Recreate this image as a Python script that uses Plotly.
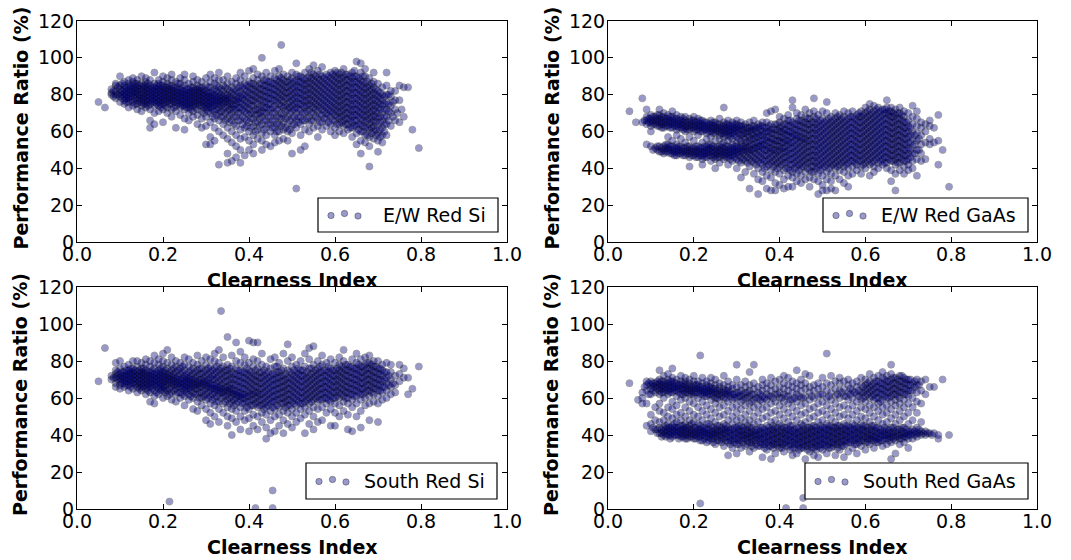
import plotly.graph_objects as go

# ---------------- data ----------------
# clearness-index columns shared by all panels
ci_cols = [0.08, 0.09, 0.10, 0.11, 0.12, 0.13, 0.14, 0.15, 0.16, 0.17,
           0.18, 0.19, 0.20, 0.21, 0.22, 0.23, 0.24, 0.25, 0.26, 0.27,
           0.28, 0.29, 0.30, 0.31, 0.32, 0.33, 0.34, 0.35, 0.36, 0.37,
           0.38, 0.39, 0.40, 0.41, 0.42, 0.43, 0.44, 0.45, 0.46, 0.47,
           0.48, 0.49, 0.50, 0.51, 0.52, 0.53, 0.54, 0.55, 0.56, 0.57,
           0.58, 0.59, 0.60, 0.61, 0.62, 0.63, 0.64, 0.65, 0.66, 0.67,
           0.68, 0.69, 0.70, 0.71, 0.72, 0.73, 0.74, 0.75, 0.76, 0.77]
ci_mid = [0.085, 0.095, 0.105, 0.115, 0.125, 0.135, 0.145, 0.155, 0.165, 0.175,
          0.185, 0.195, 0.205, 0.215, 0.225, 0.235, 0.245, 0.255, 0.265, 0.275,
          0.285, 0.295, 0.305, 0.315, 0.325, 0.335, 0.345, 0.355, 0.365, 0.375,
          0.385, 0.395, 0.405, 0.415, 0.425, 0.435, 0.445, 0.455, 0.465, 0.475,
          0.485, 0.495, 0.505, 0.515, 0.525, 0.535, 0.545, 0.555, 0.565, 0.575,
          0.585, 0.595, 0.605, 0.615, 0.625, 0.635, 0.645, 0.655, 0.665, 0.675,
          0.685, 0.695, 0.705, 0.715, 0.725, 0.735, 0.745, 0.755, 0.765, 0.775]

ew_si_pr = [
    [80, 81, 83], [78, 80, 82, 85, 86], [76, 79, 81, 83, 85, 90],
    [75, 77, 79, 81, 83, 85, 87], [73, 76, 78, 80, 82, 84, 86, 88],
    [74, 76, 79, 81, 83, 85, 87, 89], [72, 75, 77, 79, 81, 82, 84, 86, 88],
    [71, 74, 76, 78, 80, 82, 84, 86, 90], [73, 75, 77, 79, 81, 83, 85, 87, 89],
    [62, 66, 72, 75, 77, 79, 81, 83, 85, 88], [64, 70, 74, 76, 78, 80, 82, 84, 86, 92],
    [71, 74, 76, 78, 80, 82, 84, 86, 88], [65, 72, 75, 77, 79, 81, 83, 85, 87, 90],
    [70, 73, 76, 78, 80, 82, 84, 86, 89], [68, 72, 75, 77, 79, 81, 83, 85, 88, 91],
    [62, 71, 74, 76, 78, 80, 82, 84, 87], [69, 73, 75, 77, 79, 81, 83, 86, 89],
    [61, 67, 72, 74, 76, 78, 80, 82, 85, 88, 91], [66, 70, 73, 75, 77, 79, 81, 83, 86],
    [68, 71, 74, 76, 78, 80, 82, 84, 87, 90], [64, 69, 72, 75, 77, 79, 81, 83, 85, 88],
    [62, 67, 71, 74, 76, 78, 80, 82, 84, 87], [53, 63, 68, 72, 74, 76, 78, 80, 82, 85, 89],
    [53, 57, 65, 70, 73, 75, 77, 79, 81, 84, 87, 91], [55, 62, 67, 71, 74, 76, 78, 80, 83, 86, 89],
    [42, 60, 66, 70, 73, 75, 77, 79, 81, 84, 88, 92], [58, 64, 68, 72, 75, 77, 79, 82, 85, 88],
    [43, 48, 56, 62, 67, 71, 74, 76, 78, 80, 83, 86, 90], [44, 54, 60, 66, 70, 73, 75, 78, 81, 84, 87],
    [46, 52, 58, 63, 68, 72, 75, 77, 79, 82, 86, 89], [43, 50, 56, 61, 66, 70, 73, 76, 79, 82, 85, 88, 92],
    [47, 57, 62, 67, 71, 74, 77, 80, 83, 86, 90], [50, 55, 60, 65, 69, 72, 75, 78, 81, 84, 87, 93],
    [48, 53, 58, 63, 67, 71, 74, 77, 80, 83, 86, 89, 94], [56, 61, 65, 69, 72, 75, 78, 81, 84, 88, 91],
    [50, 55, 59, 64, 68, 71, 74, 77, 80, 83, 86, 90, 100], [53, 58, 62, 66, 70, 73, 76, 79, 82, 85, 88, 92],
    [52, 60, 64, 68, 72, 75, 78, 81, 84, 87, 90], [54, 58, 62, 66, 70, 74, 77, 80, 83, 86, 89, 93],
    [55, 60, 64, 68, 72, 75, 78, 81, 84, 87, 90, 94], [56, 61, 65, 69, 73, 76, 79, 82, 85, 88, 91],
    [55, 60, 64, 68, 72, 75, 78, 81, 84, 87, 90], [48, 59, 63, 67, 71, 74, 77, 80, 83, 86, 89, 92],
    [29, 62, 66, 70, 73, 76, 79, 82, 85, 88, 91, 97], [50, 58, 64, 68, 72, 75, 78, 81, 84, 87, 90],
    [52, 61, 66, 70, 73, 76, 79, 82, 85, 88, 92], [60, 64, 68, 72, 75, 78, 81, 84, 87, 90, 94],
    [62, 66, 70, 73, 76, 79, 82, 85, 88, 91, 96], [57, 63, 67, 71, 74, 77, 80, 83, 86, 89, 93],
    [61, 65, 69, 72, 75, 78, 81, 84, 87, 90, 95], [63, 67, 70, 73, 76, 79, 82, 85, 88, 91],
    [60, 64, 68, 71, 74, 77, 80, 83, 86, 89, 92], [58, 62, 66, 69, 72, 75, 78, 81, 84, 87, 90, 93],
    [60, 64, 67, 70, 73, 76, 79, 82, 85, 88, 91], [59, 63, 66, 69, 72, 75, 78, 81, 84, 87, 90, 94],
    [61, 64, 67, 70, 73, 76, 79, 82, 85, 88, 91], [57, 62, 65, 68, 71, 74, 77, 80, 83, 86, 89, 92],
    [53, 59, 63, 66, 69, 72, 75, 78, 81, 84, 87, 90, 98], [48, 55, 60, 64, 67, 70, 73, 76, 79, 82, 85, 88, 92, 97],
    [54, 58, 62, 65, 68, 71, 74, 77, 80, 83, 86, 90, 94], [41, 52, 57, 61, 64, 67, 70, 73, 76, 79, 82, 85, 89],
    [56, 60, 63, 66, 69, 72, 75, 78, 81, 84, 87, 92], [49, 55, 59, 63, 67, 70, 73, 76, 79, 82, 86],
    [54, 58, 62, 66, 70, 74, 77, 80, 84], [58, 64, 68, 72, 76, 80, 85, 92],
    [63, 70, 74, 79, 82], [66, 72, 77, 82], [65, 77, 85], [68, 84], [84]]
ew_si_pr_mid = [
    [79, 82], [80, 84], [78, 80, 82, 86], [76, 78, 80, 82, 84], [77, 79, 81, 83, 85],
    [75, 78, 80, 82, 84, 86], [76, 78, 80, 83, 85], [75, 77, 79, 81, 83, 85],
    [74, 76, 78, 80, 82, 84, 86], [76, 78, 80, 82, 84], [75, 77, 79, 81, 83, 85],
    [73, 75, 77, 79, 81, 83, 85], [74, 76, 78, 80, 82, 84], [75, 77, 79, 81, 83, 85],
    [73, 76, 78, 80, 82, 84], [75, 77, 79, 81, 83, 86], [74, 76, 78, 80, 82, 84],
    [73, 75, 77, 79, 81, 83], [72, 74, 76, 78, 80, 82, 84], [73, 75, 77, 79, 81, 83],
    [74, 76, 78, 80, 82, 84], [70, 73, 75, 77, 79, 81, 83], [71, 73, 75, 77, 79, 81, 84],
    [68, 72, 74, 76, 78, 80, 82], [69, 72, 75, 77, 79, 82, 85], [68, 71, 74, 76, 78, 80, 83],
    [66, 70, 73, 76, 78, 80, 84], [65, 69, 72, 75, 77, 79, 82], [64, 68, 72, 74, 77, 80, 83],
    [66, 70, 73, 76, 78, 81, 84], [64, 68, 72, 75, 78, 80, 84], [63, 66, 70, 73, 76, 79, 82, 85],
    [62, 67, 70, 74, 77, 80, 83, 86], [60, 65, 69, 72, 76, 79, 82, 85], [63, 67, 70, 73, 77, 80, 83, 86],
    [61, 66, 70, 73, 76, 79, 82, 85, 88], [64, 68, 72, 75, 78, 81, 84, 87], [62, 66, 70, 73, 77, 80, 83, 86],
    [60, 64, 68, 72, 76, 79, 82, 85, 88], [63, 67, 70, 74, 77, 80, 83, 86, 89], [62, 67, 71, 74, 78, 81, 84, 87],
    [61, 66, 70, 73, 76, 79, 82, 85, 88], [64, 68, 72, 75, 78, 81, 84, 87], [65, 68, 72, 75, 78, 81, 84, 87, 90],
    [66, 70, 74, 77, 80, 83, 86, 89], [67, 71, 74, 77, 80, 83, 86, 89], [66, 70, 74, 77, 80, 83, 86, 89, 92],
    [68, 72, 75, 78, 81, 84, 87, 90], [65, 69, 73, 76, 79, 82, 85, 88, 91], [67, 71, 74, 77, 80, 83, 86, 89],
    [65, 69, 72, 75, 78, 81, 84, 87, 90], [66, 70, 73, 76, 79, 82, 85, 88, 91], [64, 68, 71, 74, 77, 80, 83, 86, 89, 92],
    [65, 68, 71, 74, 77, 80, 83, 86, 89, 92], [64, 67, 70, 73, 76, 79, 82, 85, 88, 91], [62, 66, 69, 72, 75, 78, 81, 84, 87, 90],
    [63, 66, 69, 72, 75, 78, 81, 84, 87, 90, 93], [61, 64, 68, 71, 74, 77, 80, 83, 86, 89],
    [60, 63, 66, 69, 72, 75, 78, 81, 84, 87, 90], [58, 62, 66, 69, 72, 75, 78, 81, 84, 87],
    [59, 62, 65, 68, 71, 74, 77, 80, 83, 86], [58, 61, 65, 68, 71, 74, 77, 80, 83],
    [57, 61, 65, 68, 72, 75, 78, 81], [60, 64, 68, 72, 75, 79], [66, 71, 75, 80], [68, 76],
    [70], [72], [], []]
ew_si_out_ci = [0.05, 0.065, 0.475, 0.78, 0.795]
ew_si_out_pr = [76, 73, 107, 61, 51]

ew_gaas_pr = [
    [65, 78], [53, 64, 66, 68, 72], [52, 60, 63, 65, 67, 69], [51, 64, 66, 68],
    [49, 52, 63, 65, 67, 69, 72], [48, 50, 52, 62, 64, 66, 68, 70],
    [49, 51, 53, 57, 63, 65, 67, 69], [48, 50, 52, 55, 62, 64, 66, 68, 71],
    [47, 49, 51, 53, 58, 61, 63, 65, 67, 69], [48, 50, 52, 56, 62, 64, 66, 68],
    [47, 49, 51, 54, 60, 62, 64, 66, 68], [41, 46, 48, 50, 52, 57, 61, 63, 65, 67],
    [47, 49, 51, 55, 60, 62, 64, 66, 68], [46, 48, 50, 52, 58, 61, 63, 65, 67],
    [42, 45, 47, 49, 51, 54, 60, 62, 64, 66], [46, 48, 50, 52, 56, 59, 61, 63, 65],
    [44, 47, 49, 51, 53, 57, 60, 62, 64, 66], [40, 45, 47, 49, 51, 55, 59, 61, 63, 65],
    [43, 46, 48, 50, 52, 56, 58, 60, 62, 64, 67], [45, 47, 49, 51, 54, 57, 59, 61, 63, 65, 73],
    [42, 46, 48, 50, 52, 55, 58, 60, 62, 64, 66], [44, 47, 49, 51, 53, 56, 59, 61, 63, 65],
    [40, 45, 48, 50, 52, 54, 57, 60, 62, 64, 66], [35, 43, 46, 49, 51, 53, 55, 58, 61, 63, 65],
    [38, 44, 47, 50, 52, 54, 56, 59, 62, 64], [29, 41, 45, 48, 50, 52, 55, 57, 60, 62, 65],
    [37, 43, 46, 49, 51, 53, 56, 58, 61, 63, 66], [26, 34, 40, 44, 47, 50, 52, 54, 57, 59, 62, 64],
    [33, 38, 42, 45, 48, 51, 53, 55, 58, 60, 63, 65], [29, 36, 41, 44, 47, 50, 52, 55, 57, 60, 62, 65, 70],
    [28, 35, 39, 43, 46, 49, 51, 54, 56, 59, 61, 64, 71], [28, 32, 38, 42, 45, 48, 50, 53, 55, 58, 61, 64, 72],
    [31, 37, 41, 44, 47, 50, 52, 55, 57, 60, 62, 65, 68], [29, 34, 39, 43, 46, 49, 51, 54, 56, 59, 61, 64, 67],
    [30, 36, 40, 44, 47, 50, 53, 55, 58, 60, 63, 66, 69], [30, 35, 38, 42, 45, 48, 51, 54, 57, 59, 62, 65, 73, 77],
    [33, 37, 41, 44, 47, 50, 53, 56, 58, 61, 64, 67, 70], [32, 36, 40, 43, 46, 49, 52, 55, 57, 60, 63, 66, 69],
    [34, 38, 42, 45, 48, 51, 54, 56, 59, 62, 65, 68, 72], [30, 35, 39, 43, 46, 49, 52, 55, 58, 61, 64, 67, 70],
    [34, 38, 41, 44, 47, 50, 53, 56, 59, 62, 65, 68, 71, 78], [26, 33, 37, 41, 44, 47, 50, 53, 56, 59, 62, 65, 69],
    [28, 31, 36, 40, 43, 46, 49, 52, 55, 58, 61, 64, 67, 71], [28, 34, 38, 42, 45, 48, 51, 54, 57, 60, 63, 66, 70, 76],
    [29, 33, 37, 41, 44, 47, 50, 53, 56, 59, 62, 65, 68], [28, 36, 40, 43, 46, 49, 52, 55, 58, 61, 64, 67, 70],
    [34, 39, 42, 45, 48, 51, 54, 57, 60, 63, 66, 69], [32, 38, 41, 44, 47, 50, 53, 56, 59, 62, 65, 68, 71],
    [30, 36, 40, 43, 46, 49, 52, 55, 58, 61, 64, 67, 70], [37, 41, 44, 47, 50, 53, 56, 59, 62, 65, 68, 71],
    [39, 42, 45, 48, 51, 54, 57, 60, 63, 66, 69], [37, 41, 44, 47, 50, 53, 56, 59, 62, 65, 68, 71],
    [40, 43, 46, 49, 52, 55, 58, 61, 64, 67, 70, 73], [36, 42, 45, 48, 51, 54, 57, 60, 63, 66, 69, 72, 75],
    [38, 41, 44, 47, 50, 53, 56, 59, 62, 65, 68, 71, 74], [40, 43, 46, 49, 52, 55, 58, 61, 64, 67, 70, 73],
    [42, 45, 48, 51, 54, 57, 60, 63, 66, 69, 72], [40, 43, 46, 49, 52, 55, 58, 61, 64, 67, 70, 73, 77],
    [33, 39, 44, 47, 50, 53, 56, 59, 62, 65, 68, 71, 73], [28, 37, 42, 45, 48, 51, 54, 57, 60, 63, 66, 69, 72],
    [39, 43, 46, 49, 52, 55, 58, 61, 64, 67, 70, 73], [37, 41, 44, 47, 50, 53, 56, 59, 62, 65, 68, 71],
    [39, 42, 45, 48, 51, 54, 57, 60, 63, 66, 70], [40, 44, 48, 52, 56, 60, 64, 68, 74],
    [36, 45, 50, 55, 59, 63, 67, 71], [44, 48, 53, 58, 62, 65], [45, 54, 60, 64],
    [53, 56, 63, 66], [54, 62], [42, 55, 69]]
ew_gaas_pr_mid = [
    [66], [65, 67], [50, 64, 66, 68], [50, 52, 63, 65, 67, 69], [49, 51, 62, 64, 66, 68],
    [49, 51, 53, 63, 65, 67], [48, 50, 52, 62, 64, 66, 68], [47, 49, 51, 63, 65, 67],
    [48, 50, 52, 62, 64, 66], [47, 49, 51, 61, 63, 65, 67], [48, 50, 52, 61, 63, 65],
    [47, 49, 51, 62, 64, 66], [46, 48, 50, 52, 61, 63, 65], [47, 49, 51, 60, 62, 64, 66],
    [46, 48, 50, 52, 61, 63, 65], [47, 49, 51, 53, 60, 62, 64], [46, 48, 50, 52, 59, 61, 63, 65],
    [46, 48, 50, 52, 60, 62, 64], [47, 49, 51, 53, 59, 61, 63], [46, 48, 50, 52, 58, 60, 62, 64],
    [45, 47, 49, 51, 57, 59, 61, 63], [46, 48, 50, 52, 58, 60, 62, 64], [44, 47, 49, 51, 56, 59, 61, 63],
    [45, 48, 50, 52, 57, 59, 61, 63], [43, 46, 49, 51, 54, 58, 60, 62], [44, 47, 50, 53, 56, 59, 61, 63],
    [42, 45, 48, 51, 54, 57, 60, 62], [43, 46, 49, 52, 55, 58, 61, 63], [40, 44, 47, 50, 53, 56, 59, 62],
    [42, 45, 48, 51, 54, 57, 60, 63], [41, 44, 47, 50, 53, 56, 59, 62], [40, 43, 46, 49, 52, 55, 58, 61, 64],
    [42, 45, 48, 51, 54, 57, 60, 63], [40, 43, 46, 49, 52, 55, 58, 61, 64], [39, 42, 45, 48, 51, 54, 57, 60, 63, 66],
    [40, 43, 46, 49, 52, 55, 58, 61, 64], [39, 42, 45, 48, 51, 54, 57, 60, 63, 66], [41, 44, 47, 50, 53, 56, 59, 62, 65],
    [40, 43, 46, 49, 52, 55, 58, 61, 64, 67], [38, 41, 44, 47, 50, 53, 56, 59, 62, 65], [40, 43, 46, 49, 52, 55, 58, 61, 64, 67],
    [39, 42, 45, 48, 51, 54, 57, 60, 63, 66], [41, 44, 47, 50, 53, 56, 59, 62, 65], [40, 43, 46, 49, 52, 55, 58, 61, 64, 67],
    [42, 45, 48, 51, 54, 57, 60, 63, 66], [41, 44, 47, 50, 53, 56, 59, 62, 65, 68], [43, 46, 49, 52, 55, 58, 61, 64, 67],
    [42, 45, 48, 51, 54, 57, 60, 63, 66], [44, 47, 50, 53, 56, 59, 62, 65, 68], [43, 46, 49, 52, 55, 58, 61, 64, 67],
    [44, 47, 50, 53, 56, 59, 62, 65, 68, 70], [42, 45, 48, 51, 54, 57, 60, 63, 66, 69], [44, 47, 50, 53, 56, 59, 62, 65, 68, 71],
    [43, 46, 49, 52, 55, 58, 61, 64, 67, 70], [45, 48, 51, 54, 57, 60, 63, 66, 69, 72], [44, 47, 50, 53, 56, 59, 62, 65, 68, 71],
    [43, 46, 49, 52, 55, 58, 61, 64, 67, 70, 72], [45, 48, 51, 54, 57, 60, 63, 66, 69, 71], [44, 47, 50, 53, 56, 59, 62, 65, 68, 70],
    [43, 46, 49, 52, 55, 58, 61, 64, 67, 70], [45, 48, 51, 54, 57, 60, 63, 66, 69], [44, 47, 50, 53, 56, 59, 62, 65],
    [46, 50, 54, 58, 62], [48, 53, 58], [50, 56], [], [], [], [], []]
ew_gaas_out_ci = [0.05, 0.065, 0.78, 0.795]
ew_gaas_out_pr = [71, 65, 50, 30]

s_si_pr = [
    [70, 72], [66, 68, 71, 73, 75, 79], [65, 67, 69, 71, 73, 76, 80], [66, 68, 70, 72, 74, 77],
    [64, 67, 69, 71, 73, 75, 78], [65, 68, 70, 72, 74, 76, 80], [63, 66, 68, 70, 72, 74, 77, 80],
    [64, 66, 68, 70, 72, 74, 76, 79], [62, 65, 67, 69, 71, 73, 75, 78, 81],
    [58, 63, 66, 68, 70, 72, 74, 77, 80], [57, 61, 64, 67, 69, 71, 73, 76, 79, 83],
    [62, 65, 67, 69, 71, 73, 75, 78, 81], [60, 64, 66, 68, 70, 72, 74, 77, 80, 84],
    [61, 64, 67, 69, 71, 73, 76, 79, 86], [59, 63, 66, 68, 70, 72, 75, 78, 82],
    [58, 62, 65, 67, 69, 71, 74, 77, 80], [60, 63, 66, 68, 70, 73, 76, 79],
    [56, 61, 64, 66, 68, 70, 72, 75, 78, 82], [59, 62, 65, 67, 69, 71, 74, 77, 81],
    [54, 60, 63, 66, 68, 70, 73, 76, 79], [53, 58, 62, 65, 67, 69, 72, 75, 78, 83],
    [56, 60, 63, 66, 68, 70, 73, 76, 80], [48, 54, 59, 62, 65, 67, 69, 72, 75, 78, 82],
    [46, 52, 57, 61, 64, 66, 68, 71, 74, 77, 81], [50, 56, 60, 63, 65, 67, 70, 73, 76, 80, 84],
    [47, 54, 58, 62, 64, 66, 69, 72, 75, 79, 86], [52, 57, 61, 63, 65, 68, 71, 74, 77, 82],
    [45, 50, 55, 59, 62, 64, 66, 69, 72, 75, 78, 93], [40, 49, 54, 58, 61, 63, 65, 68, 71, 74, 77, 83],
    [47, 53, 57, 60, 62, 64, 67, 70, 73, 76, 80, 90], [43, 50, 55, 59, 61, 63, 66, 69, 72, 75, 79, 85],
    [48, 53, 57, 60, 62, 65, 68, 71, 74, 78, 82], [42, 49, 54, 58, 61, 63, 66, 69, 72, 75, 79, 91],
    [45, 51, 56, 59, 62, 64, 67, 70, 73, 77, 81, 90], [43, 50, 55, 58, 61, 63, 66, 69, 72, 76, 80, 90],
    [47, 52, 56, 59, 62, 65, 68, 71, 74, 78, 84], [38, 44, 51, 55, 58, 61, 64, 67, 70, 73, 77],
    [41, 48, 53, 57, 60, 63, 66, 69, 72, 76, 81], [42, 50, 54, 58, 61, 64, 67, 70, 73, 77, 82],
    [45, 51, 55, 59, 62, 65, 68, 71, 74, 79], [41, 48, 53, 57, 60, 63, 66, 69, 72, 76, 84],
    [46, 52, 56, 59, 62, 65, 68, 71, 75, 80, 89], [44, 50, 54, 58, 61, 64, 67, 70, 73, 77, 82],
    [47, 52, 56, 59, 62, 65, 68, 71, 74, 78], [49, 54, 57, 60, 63, 66, 69, 72, 75, 80],
    [41, 51, 55, 58, 61, 64, 67, 70, 73, 77, 84], [46, 53, 57, 60, 63, 66, 69, 72, 76, 81, 87],
    [43, 50, 55, 59, 62, 65, 68, 71, 74, 78, 88], [47, 54, 58, 61, 64, 67, 70, 73, 76, 80],
    [48, 55, 59, 62, 65, 68, 71, 74, 78, 83], [52, 57, 60, 63, 66, 69, 72, 75, 79],
    [45, 54, 58, 61, 64, 67, 70, 73, 76, 81], [45, 52, 57, 60, 63, 66, 69, 72, 75, 79],
    [50, 56, 60, 63, 66, 69, 72, 75, 78, 82], [53, 58, 61, 64, 67, 70, 73, 76, 80, 86],
    [43, 51, 57, 60, 63, 66, 69, 72, 75, 78], [42, 55, 59, 62, 65, 68, 71, 74, 77, 81],
    [50, 57, 61, 64, 67, 70, 73, 76, 79, 84], [44, 53, 59, 62, 65, 68, 71, 74, 77, 81],
    [56, 60, 63, 66, 69, 72, 75, 78, 82], [48, 57, 61, 64, 67, 70, 73, 76, 79, 83],
    [58, 62, 65, 68, 71, 74, 77, 80], [47, 57, 61, 64, 67, 70, 73, 76, 80],
    [59, 63, 66, 69, 72, 75, 78], [60, 64, 68, 71, 74, 79], [62, 66, 70, 74, 78],
    [63, 67, 72], [69, 73, 78], [71, 76], [62, 71]]
s_si_pr_mid = [
    [71], [70, 72, 74], [68, 70, 72, 74], [67, 69, 71, 73, 75], [66, 68, 70, 72, 74, 76],
    [67, 69, 71, 73, 75], [65, 67, 69, 71, 73, 75], [66, 68, 70, 72, 74, 76], [64, 66, 68, 70, 72, 74],
    [65, 67, 69, 71, 73, 75], [63, 66, 68, 70, 72, 74], [64, 66, 68, 70, 72, 74, 76],
    [63, 65, 67, 69, 71, 73, 75], [62, 65, 68, 70, 72, 74], [64, 67, 69, 71, 73, 76],
    [63, 66, 68, 70, 72, 75], [62, 65, 67, 69, 71, 74, 77], [63, 65, 67, 69, 71, 73],
    [61, 64, 66, 68, 70, 72, 75], [62, 65, 67, 69, 71, 74], [60, 63, 66, 68, 70, 73, 76],
    [61, 64, 67, 69, 71, 74], [60, 63, 66, 68, 70, 73, 76], [59, 62, 65, 67, 70, 72, 75],
    [58, 61, 64, 66, 68, 71, 74, 77], [60, 63, 65, 67, 70, 73, 76], [58, 61, 64, 66, 69, 72, 75],
    [57, 60, 63, 65, 67, 70, 73, 76], [56, 59, 62, 64, 67, 70, 73], [58, 61, 63, 66, 69, 72, 75],
    [57, 60, 62, 65, 68, 71, 74], [55, 58, 61, 64, 67, 70, 73, 76], [56, 59, 62, 65, 68, 71, 74],
    [57, 60, 63, 66, 69, 72, 75], [56, 59, 62, 65, 68, 71, 74], [54, 57, 60, 63, 66, 69, 72, 75],
    [56, 59, 62, 65, 68, 71, 74], [55, 58, 61, 64, 67, 70, 73], [56, 59, 62, 65, 68, 71, 74, 77],
    [57, 60, 63, 66, 69, 72, 75], [55, 58, 61, 64, 67, 70, 73], [56, 59, 62, 65, 68, 71, 74],
    [57, 60, 63, 66, 69, 72, 75], [58, 61, 64, 67, 70, 73, 76], [57, 60, 63, 66, 69, 72, 75],
    [59, 62, 65, 68, 71, 74], [58, 61, 64, 67, 70, 73, 76], [60, 63, 66, 69, 72, 75],
    [59, 62, 65, 68, 71, 74, 77], [60, 63, 66, 69, 72, 75], [59, 62, 65, 68, 71, 74, 77],
    [60, 63, 66, 69, 72, 75], [61, 64, 67, 70, 73, 76], [62, 65, 68, 71, 74, 77],
    [60, 63, 66, 69, 72, 75, 78], [62, 65, 68, 71, 74, 77], [61, 64, 67, 70, 73, 76],
    [63, 66, 69, 72, 75, 78], [62, 65, 68, 71, 74, 77], [64, 67, 70, 73, 76, 79],
    [63, 66, 69, 72, 75, 78], [65, 68, 71, 74, 77], [64, 67, 70, 73, 76], [66, 70, 74],
    [67, 72], [68], [], [], [], []]
s_si_out_ci = [0.05, 0.065, 0.335, 0.215, 0.415, 0.455, 0.455, 0.78, 0.795]
s_si_out_pr = [69, 87, 107, 4, 0.5, 10, 0.5, 65, 77]

s_gaas_pr = [
    [57, 60, 63], [45, 57, 64, 67, 69], [42, 46, 51, 62, 65, 67, 69], [43, 48, 55, 63, 66, 68],
    [41, 44, 47, 53, 57, 62, 64, 66, 68, 70, 75], [40, 42, 44, 48, 52, 60, 63, 65, 67, 69, 72],
    [40, 42, 44, 46, 50, 55, 62, 64, 66, 68, 70, 73], [39, 41, 43, 45, 49, 54, 58, 63, 65, 67, 69, 71, 76],
    [40, 42, 44, 47, 51, 56, 61, 64, 66, 68, 70], [39, 41, 43, 45, 48, 52, 59, 62, 65, 67, 69, 72],
    [38, 40, 42, 44, 46, 50, 55, 60, 63, 65, 67, 69, 71], [39, 41, 43, 45, 48, 53, 58, 62, 64, 66, 68, 70],
    [38, 40, 42, 44, 47, 51, 57, 61, 63, 65, 67, 69, 72], [39, 41, 43, 46, 50, 55, 60, 63, 65, 67, 69],
    [37, 40, 42, 44, 48, 53, 58, 62, 64, 66, 68, 71], [36, 39, 41, 43, 46, 51, 56, 61, 63, 65, 67, 69],
    [38, 40, 42, 45, 49, 54, 59, 62, 64, 66, 68, 71], [35, 39, 41, 43, 47, 52, 57, 60, 63, 65, 67, 70],
    [37, 40, 42, 45, 50, 55, 59, 62, 64, 66, 68], [34, 38, 41, 43, 46, 51, 56, 60, 63, 65, 67, 72],
    [29, 36, 39, 42, 44, 48, 53, 58, 62, 64, 66, 69], [33, 37, 40, 43, 46, 50, 55, 59, 62, 65, 67],
    [30, 35, 38, 41, 44, 48, 52, 56, 60, 63, 66, 70, 78], [33, 37, 40, 42, 45, 49, 54, 58, 61, 64, 67],
    [34, 38, 40, 43, 47, 51, 56, 60, 63, 66, 69], [31, 36, 39, 41, 44, 48, 53, 57, 61, 64, 67, 74],
    [33, 37, 40, 42, 46, 50, 55, 59, 62, 65, 68, 78], [34, 38, 40, 43, 47, 52, 56, 60, 63, 66],
    [28, 35, 38, 41, 44, 49, 54, 58, 61, 64, 67, 70], [32, 36, 39, 42, 45, 50, 55, 59, 62, 65, 68],
    [27, 34, 37, 40, 43, 47, 52, 57, 61, 64, 67, 71], [30, 35, 38, 41, 44, 48, 53, 58, 62, 65, 69],
    [33, 36, 39, 42, 46, 51, 56, 60, 63, 66, 70], [31, 35, 38, 41, 44, 49, 54, 58, 62, 65, 68, 72],
    [34, 37, 40, 43, 47, 52, 57, 61, 64, 67, 71], [29, 33, 36, 39, 42, 45, 50, 55, 59, 63, 66, 69],
    [30, 35, 38, 41, 44, 48, 53, 58, 62, 65, 68, 75], [33, 36, 39, 42, 46, 51, 56, 60, 64, 67, 70],
    [27, 34, 37, 40, 43, 47, 52, 57, 61, 65, 68, 73], [31, 35, 38, 41, 44, 49, 54, 59, 63, 66, 72],
    [29, 33, 36, 39, 42, 45, 50, 55, 60, 64, 67], [28, 34, 37, 40, 43, 47, 52, 57, 61, 65, 68],
    [32, 35, 38, 41, 44, 48, 53, 58, 62, 66, 71], [30, 34, 37, 40, 43, 46, 51, 56, 60, 64, 68],
    [33, 36, 39, 42, 45, 49, 54, 59, 63, 67, 72], [29, 35, 38, 41, 44, 47, 52, 57, 61, 65, 69],
    [32, 36, 39, 42, 45, 50, 55, 60, 64, 68, 71], [28, 34, 37, 40, 43, 46, 51, 56, 61, 65, 69],
    [31, 36, 39, 42, 45, 49, 54, 59, 63, 67, 70], [33, 37, 40, 43, 46, 51, 56, 60, 64, 68],
    [30, 35, 38, 41, 44, 48, 53, 58, 62, 66, 69], [34, 37, 40, 43, 46, 50, 55, 59, 63, 67, 71],
    [32, 36, 39, 42, 45, 49, 54, 58, 61, 64, 67, 70], [35, 38, 40, 43, 47, 52, 56, 60, 63, 66, 69, 73],
    [33, 37, 39, 42, 45, 50, 55, 59, 62, 65, 68, 71], [36, 38, 41, 44, 48, 53, 57, 60, 63, 66, 69, 72],
    [34, 37, 40, 42, 46, 51, 55, 59, 62, 65, 68, 71, 74], [35, 38, 40, 43, 47, 52, 56, 60, 63, 66, 69, 72],
    [27, 36, 39, 41, 44, 49, 54, 58, 61, 64, 67, 70, 73, 78], [30, 37, 39, 42, 46, 51, 56, 59, 62, 65, 68, 71],
    [35, 38, 40, 43, 48, 53, 57, 60, 63, 66, 69, 72], [36, 39, 41, 44, 50, 55, 59, 62, 65, 68, 71],
    [33, 38, 40, 42, 46, 52, 57, 61, 64, 67, 70], [38, 41, 43, 48, 55, 60, 64, 68],
    [39, 41, 44, 52, 58, 63, 67, 70], [40, 42, 47, 57, 64, 69], [40, 42, 62, 70],
    [41, 66], [41, 66], [38, 40]]
s_gaas_pr_mid = [
    [66], [62, 68], [44, 64, 66, 68], [41, 43, 65, 67, 69], [39, 41, 43, 63, 65, 67, 69],
    [39, 41, 43, 45, 64, 66, 68], [38, 40, 42, 44, 63, 65, 67, 69], [40, 42, 44, 46, 64, 66, 68],
    [38, 40, 42, 44, 63, 65, 67], [39, 41, 43, 45, 62, 64, 66, 68], [38, 40, 42, 44, 63, 65, 67],
    [39, 41, 43, 46, 62, 64, 66], [38, 40, 42, 44, 63, 65, 67], [37, 39, 41, 43, 45, 62, 64, 66],
    [38, 40, 42, 44, 61, 63, 65], [37, 39, 41, 43, 46, 62, 64, 66], [36, 38, 40, 42, 44, 61, 63, 65],
    [37, 39, 41, 43, 45, 60, 62, 64], [36, 38, 40, 42, 44, 61, 63], [37, 39, 41, 43, 45, 60, 62, 64],
    [35, 37, 39, 41, 43, 61, 63], [36, 38, 40, 42, 44, 60, 62], [35, 37, 39, 41, 43, 45, 61, 63],
    [36, 38, 40, 42, 44, 59, 62], [35, 37, 39, 41, 43, 45, 60, 63], [34, 36, 38, 40, 42, 44, 58, 62],
    [35, 37, 39, 41, 43, 60], [34, 36, 38, 40, 42, 44, 59, 62], [33, 35, 37, 39, 41, 43, 60],
    [34, 36, 38, 40, 42, 44, 61], [33, 35, 37, 39, 41, 43, 45, 60], [34, 36, 38, 40, 42, 44, 62],
    [33, 35, 37, 39, 41, 43, 45, 60], [34, 36, 38, 40, 42, 44, 61], [32, 35, 37, 39, 41, 43, 45, 59],
    [33, 35, 37, 39, 41, 43, 60], [32, 34, 36, 38, 40, 42, 44, 61], [33, 35, 37, 39, 41, 43, 45, 60],
    [32, 34, 36, 38, 40, 42, 44], [33, 35, 37, 39, 41, 43, 45, 61], [32, 34, 36, 38, 40, 42, 44],
    [33, 35, 37, 39, 41, 43, 45, 62], [34, 36, 38, 40, 42, 44], [33, 35, 37, 39, 41, 43, 45, 61],
    [34, 36, 38, 40, 42, 44], [33, 35, 37, 39, 41, 43, 45, 62], [34, 36, 38, 40, 42, 44, 63],
    [35, 37, 39, 41, 43, 45, 61], [36, 38, 40, 42, 44, 62, 65], [35, 37, 39, 41, 43, 45, 63],
    [36, 38, 40, 42, 44, 61, 64], [37, 39, 41, 43, 45, 60, 63, 66], [36, 38, 40, 42, 44, 62, 65, 68],
    [37, 39, 41, 43, 45, 61, 64, 67], [36, 38, 40, 42, 44, 60, 63, 66, 69], [37, 39, 41, 43, 58, 62, 65, 68],
    [38, 40, 42, 44, 61, 64, 67, 70], [37, 39, 41, 43, 60, 63, 66, 69], [38, 40, 42, 44, 62, 65, 68, 71],
    [39, 41, 43, 61, 64, 67, 70], [38, 40, 42, 44, 63, 66, 69, 72], [39, 41, 43, 62, 65, 68, 70],
    [40, 42, 64, 67, 70], [40, 42, 66, 69], [41, 43, 67], [41], [41], [40], [], []]
s_gaas_out_ci = [0.05, 0.07, 0.215, 0.51, 0.215, 0.415, 0.455, 0.455, 0.78, 0.795]
s_gaas_out_pr = [68, 59, 83, 84, 3, 0.5, 6, 0.5, 70, 40]

panel_names = ["E/W Red Si", "E/W Red GaAs", "South Red Si", "South Red GaAs"]
tick_x = [0.0, 0.2, 0.4, 0.6, 0.8, 1.0]
tick_y = [0, 20, 40, 60, 80, 100, 120]

# ---------------- figure ----------------
OFF = 8                     # default page margin of the html body
W, H = 1071 - OFF, 560 - OFF
FONT = "DejaVu Sans"


def px2x(px):
    return (px - OFF) / W


def px2y(py):
    return 1 - (py - OFF) / H


def expand(groups, ox, oy):
    xs, ys = [], []
    for cols, ylists in groups:
        for c, yl in zip(cols, ylists):
            xs += [c] * len(yl)
            ys += yl
    return xs + ox, ys + oy


series = [
    expand([(ci_cols, ew_si_pr), (ci_mid, ew_si_pr_mid)], ew_si_out_ci, ew_si_out_pr),
    expand([(ci_cols, ew_gaas_pr), (ci_mid, ew_gaas_pr_mid)], ew_gaas_out_ci, ew_gaas_out_pr),
    expand([(ci_cols, s_si_pr), (ci_mid, s_si_pr_mid)], s_si_out_ci, s_si_out_pr),
    expand([(ci_cols, s_gaas_pr), (ci_mid, s_gaas_pr_mid)], s_gaas_out_ci, s_gaas_out_pr),
]

# axes boxes in window pixels: (left, right, top, bottom)
boxes = [(77, 507, 21, 242), (608, 1037, 21, 242), (77, 507, 287, 509), (608, 1037, 287, 509)]
# legend boxes in window pixels: (left, right, top, bottom)
leg = [(318, 498, 198, 232), (823, 1028, 198, 232), (306, 497, 463, 499), (805, 1028, 463, 499)]
xtitle_y = [280, 280, 547, 547]

fig = go.Figure()
layout = dict(template="none", width=W, height=H,
              margin=dict(l=0, r=0, t=0, b=0, pad=0, autoexpand=False),
              paper_bgcolor="white", plot_bgcolor="white", showlegend=False,
              font=dict(family=FONT, size=19, color="black"))
annotations, shapes = [], []

for i, ((xs, ys), name, (l, r, t, b), (ll, lr, lt, lb), ty) in enumerate(
        zip(series, panel_names, boxes, leg, xtitle_y)):
    n = "" if i == 0 else str(i + 1)
    fig.add_trace(go.Scatter(x=xs, y=ys, mode="markers", name=name,
                             xaxis="x" + n, yaxis="y" + n,
                             marker=dict(size=7, color="rgb(0,0,128)", opacity=0.4,
                                         line=dict(color="black", width=0.8))))
    axcommon = dict(showgrid=False, zeroline=False, showline=True, mirror="ticks",
                    linecolor="black", linewidth=1, ticks="inside", ticklen=5,
                    tickcolor="black", automargin=False,
                    tickfont=dict(family=FONT, size=19, color="black"))
    layout["xaxis" + n] = dict(axcommon, domain=[px2x(l), px2x(r)], range=[0, 1],
                               tickvals=tick_x, ticktext=[f"{v:.1f}" for v in tick_x],
                               anchor="y" + n, ticklabelstandoff=-5)
    layout["yaxis" + n] = dict(axcommon, domain=[px2y(b), px2y(t)], range=[0, 120],
                               tickvals=tick_y, anchor="x" + n, ticklabelstandoff=-2)
    # axis titles
    annotations.append(dict(xref="paper", yref="paper", x=px2x((l + r) / 2), y=px2y(ty),
                            text="Clearness Index", showarrow=False,
                            xanchor="center", yanchor="middle",
                            font=dict(family=FONT, size=19, weight="bold", color="black")))
    annotations.append(dict(xref="paper", yref="paper", x=px2x(l - 57),
                            y=px2y((t + b) / 2 - 3),
                            text="Performance Ratio (%)", showarrow=False, textangle=-90,
                            xanchor="center", yanchor="middle",
                            font=dict(family=FONT, size=19, weight="bold", color="black")))
    # legend box
    shapes.append(dict(type="rect", xref="paper", yref="paper",
                       x0=px2x(ll), x1=px2x(lr), y0=px2y(lb), y1=px2y(lt),
                       line=dict(color="black", width=1.2), fillcolor="white", layer="above"))
    cy = (lt + lb) / 2
    for dx, dy in [(13, 0.5), (26.5, -1.5), (40, 1)]:
        cx, cyy = ll + dx, cy + dy
        shapes.append(dict(type="circle", xref="paper", yref="paper",
                           x0=px2x(cx - 3.2), x1=px2x(cx + 3.2),
                           y0=px2y(cyy + 3.2), y1=px2y(cyy - 3.2),
                           fillcolor="rgba(0,0,128,0.4)", line=dict(color="rgba(0,0,0,0.4)", width=0.8),
                           layer="above"))
    annotations.append(dict(xref="paper", yref="paper", x=px2x(lr - 10), y=px2y(cy),
                            text=name, showarrow=False, xanchor="right", yanchor="middle",
                            font=dict(family=FONT, size=19, color="black")))

layout["annotations"] = annotations
layout["shapes"] = shapes
fig.update_layout(**layout)
fig.write_html("out.html")
